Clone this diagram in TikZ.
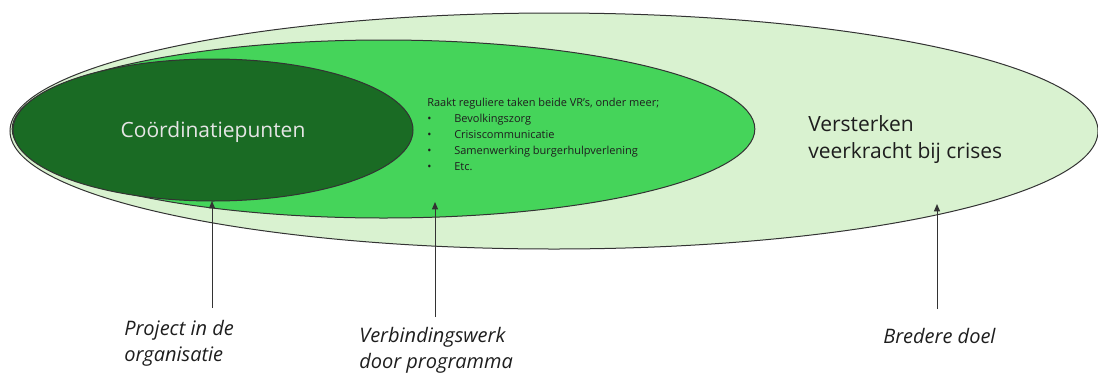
\documentclass[tikz,border=0pt]{standalone}
\usepackage{fontspec}
\setmainfont{Open Sans}
\usetikzlibrary{shapes.geometric,arrows.meta}
\definecolor{lichtgroen}{HTML}{D9F2D0}
\definecolor{middengroen}{HTML}{45D45A}
\definecolor{donkergroen}{HTML}{1A6B24}
\definecolor{rand}{HTML}{333333}
\definecolor{tekst}{HTML}{1E1E1E}
\tikzset{
  kring/.style={draw=rand, line width=0.75pt, ellipse, inner sep=0pt, outer sep=0pt},
  pijl/.style={draw=rand, line width=0.75pt, -{Triangle[length=5.5pt,width=4.5pt]}},
  uitleg/.style={font=\fontsize{15}{19.5}\selectfont\itshape, text=tekst, align=left, inner sep=0pt, anchor=base west}
}
\begin{document}
\begin{tikzpicture}[x=0.75pt, y=-0.75pt]
\useasboundingbox (0,0) rectangle (1098,372);
\node[kring, fill=lichtgroen, minimum width=816pt, minimum height=177pt] (doel) at (554,131) {};
\node[kring, fill=middengroen, minimum width=557pt, minimum height=133.5pt] (taken) at (383.5,129) {};
\node[kring, fill=donkergroen, minimum width=300pt, minimum height=106.5pt] (punten) at (213,130) {};

\node[font=\fontsize{15.75}{20}\selectfont, text=white!90!black, inner sep=0pt, anchor=base] (ptitel) at (213,137) {Coördinatiepunten};
\node[font=\fontsize{8.25}{12}\selectfont, text=tekst, align=left, inner sep=0pt, anchor=north west] (tlijst) at (427,98)
  {Raakt reguliere taken beide VR’s, onder meer;\\
   \makebox[20.25pt][l]{\textbullet}Bevolkingszorg\\
   \makebox[20.25pt][l]{\textbullet}Crisiscommunicatie\\
   \makebox[20.25pt][l]{\textbullet}Samenwerking burgerhulpverlening\\
   \makebox[20.25pt][l]{\textbullet}Etc.};
% base van een meerregelige node ligt op de laatste regel
\node[font=\fontsize{15.75}{20.25}\selectfont, text=tekst, align=left, inner sep=0pt, anchor=base west] (dtitel) at (808,158)
  {Versterken\\veerkracht bij crises};

\node[uitleg] (project) at (124,361) {Project in de\\organisatie};
\node[uitleg] (verbinding) at (359,368) {Verbindingswerk\\door programma};
\node[uitleg] (breder) at (883,343) {Bredere doel};

\coordinate (pvoet) at (212,308);
\coordinate (vvoet) at (435,317);
\coordinate (vpunt) at (435,202);
\coordinate (bvoet) at (937,309);
\coordinate (bpunt) at (937,204);
\draw[pijl] (pvoet) -- (pvoet |- punten.south);
\draw[pijl] (vvoet) -- (vpunt);
\draw[pijl] (bvoet) -- (bpunt);
\end{tikzpicture}
\end{document}
